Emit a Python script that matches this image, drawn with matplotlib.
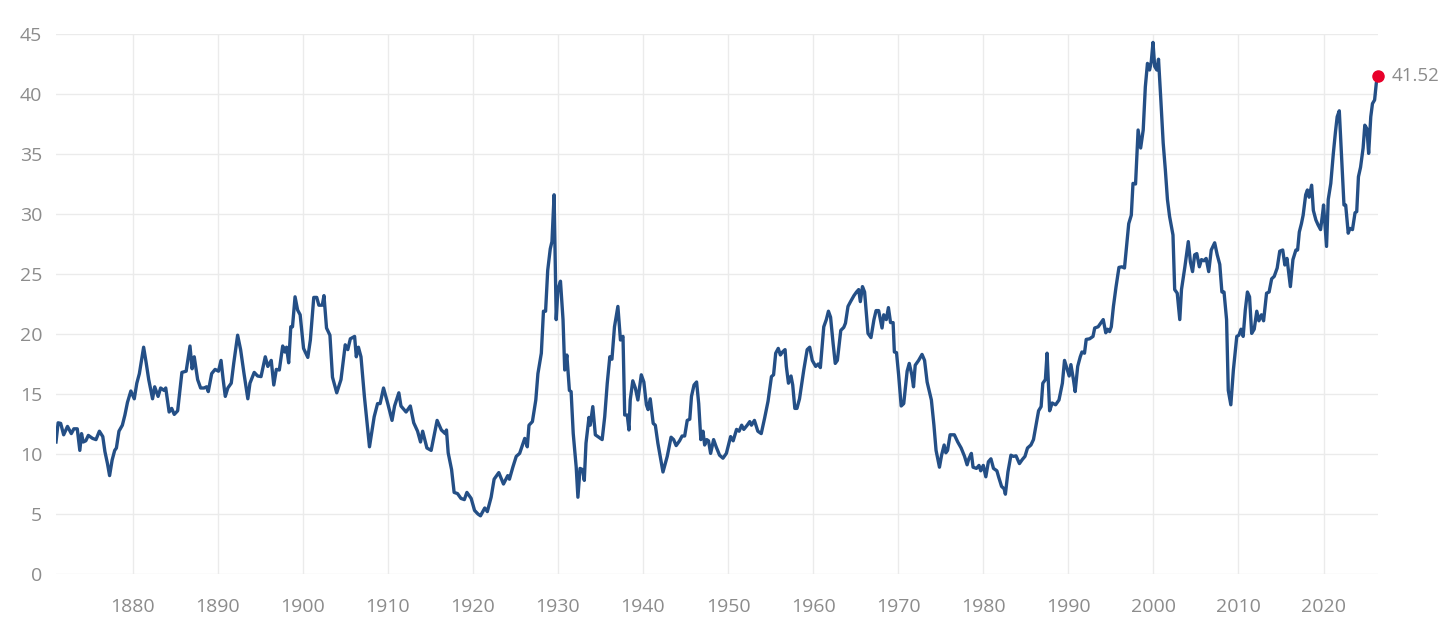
import matplotlib
matplotlib.use("Agg")
import matplotlib.pyplot as plt

# Shiller CAPE, values (decimal year, ratio)
years = [
    1871.0, 1871.25, 1871.55, 1871.9, 1872.35, 1872.8, 1873.1, 1873.5, 1873.8, 1874.0,
    1874.2, 1874.5, 1874.8, 1875.3, 1875.7, 1876.1, 1876.5, 1876.75, 1877.05, 1877.3,
    1877.6, 1877.9, 1878.1, 1878.4, 1878.8, 1879.1, 1879.4, 1879.8,
    1880.2, 1880.5, 1880.8, 1881.3, 1881.6, 1881.9, 1882.35, 1882.6, 1883.0, 1883.3,
    1883.7, 1883.9, 1884.3, 1884.6, 1884.9, 1885.3, 1885.8, 1886.3, 1886.75, 1887.0,
    1887.25, 1887.65, 1888.0, 1888.4, 1888.7, 1888.9, 1889.3, 1889.7,
    1890.1, 1890.4, 1890.65, 1890.9, 1891.2, 1891.6, 1891.9, 1892.35, 1892.7, 1893.1,
    1893.55, 1893.8, 1894.3, 1894.7, 1895.1, 1895.6, 1895.9, 1896.3, 1896.6, 1896.9,
    1897.25, 1897.65, 1897.9, 1898.1, 1898.35, 1898.6, 1898.8, 1899.1, 1899.4, 1899.7,
    1900.1, 1900.6, 1900.9, 1901.3, 1901.65, 1901.9, 1902.3, 1902.5, 1902.8, 1903.2,
    1903.5, 1904.0, 1904.5, 1905.0, 1905.3, 1905.6, 1906.1, 1906.3, 1906.55, 1906.85,
    1907.25, 1907.85, 1908.4, 1908.8, 1909.1, 1909.5,
    1910.0, 1910.5, 1910.8, 1911.3, 1911.55, 1912.15, 1912.65, 1913.05, 1913.5, 1913.85,
    1914.1, 1914.6, 1915.1, 1915.8, 1916.3, 1916.75, 1916.9, 1917.1, 1917.5, 1917.8,
    1918.2, 1918.6, 1919.0, 1919.3, 1919.8,
    1920.2, 1920.6, 1920.9, 1921.4, 1921.7, 1922.15, 1922.5, 1923.05, 1923.6, 1924.1,
    1924.3, 1924.7, 1925.1, 1925.5, 1926.1, 1926.4, 1926.6, 1927.0, 1927.4, 1927.65,
    1928.05, 1928.3, 1928.55, 1928.8, 1929.1, 1929.3, 1929.55, 1929.8,
    1930.0, 1930.3, 1930.6, 1930.8, 1931.05, 1931.35, 1931.55, 1931.8, 1932.15, 1932.35,
    1932.6, 1932.9, 1933.1, 1933.3, 1933.65, 1933.8, 1934.1, 1934.4, 1934.8, 1935.2,
    1935.5, 1935.8, 1936.1, 1936.35, 1936.65, 1937.05, 1937.35, 1937.65, 1937.85, 1938.15,
    1938.35, 1938.5, 1938.8, 1939.1, 1939.4, 1939.8,
    1940.1, 1940.4, 1940.6, 1940.85, 1941.2, 1941.45, 1941.75, 1942.35, 1942.85, 1943.3,
    1943.6, 1943.9, 1944.3, 1944.6, 1944.9, 1945.2, 1945.5, 1945.7, 1946.0, 1946.3,
    1946.55, 1946.8, 1947.05, 1947.25, 1947.5, 1947.7, 1947.95, 1948.3, 1948.6, 1949.0,
    1949.4, 1949.8,
    1950.3, 1950.6, 1951.0, 1951.3, 1951.6, 1951.85, 1952.25, 1952.55, 1952.75, 1953.1,
    1953.5, 1953.9, 1954.3, 1954.7, 1955.1, 1955.35, 1955.6, 1955.9, 1956.15, 1956.4,
    1956.7, 1956.85, 1957.1, 1957.4, 1957.6, 1957.85, 1958.1, 1958.4, 1958.9, 1959.3,
    1959.6, 1959.9,
    1960.3, 1960.6, 1960.85, 1961.25, 1961.55, 1961.8, 1962.05, 1962.35, 1962.6, 1962.85,
    1963.25, 1963.6, 1963.8, 1964.1, 1964.4, 1964.8, 1965.1, 1965.35, 1965.55, 1965.8,
    1966.05, 1966.45, 1966.8, 1967.15, 1967.4, 1967.7, 1968.1, 1968.3, 1968.6, 1968.85,
    1969.1, 1969.4, 1969.55, 1969.8,
    1970.05, 1970.35, 1970.65, 1971.05, 1971.3, 1971.6, 1971.8, 1972.0, 1972.4, 1972.8,
    1973.1, 1973.4, 1973.9, 1974.2, 1974.45, 1974.85, 1975.1, 1975.4, 1975.6, 1975.8,
    1976.1, 1976.6, 1977.0, 1977.4, 1977.8, 1978.1, 1978.3, 1978.6, 1978.8, 1979.2,
    1979.5, 1979.7,
    1980.0, 1980.3, 1980.6, 1980.9, 1981.2, 1981.6, 1981.8, 1982.15, 1982.45, 1982.6,
    1982.9, 1983.25, 1983.55, 1983.85, 1984.25, 1984.6, 1984.9, 1985.2, 1985.6, 1985.9,
    1986.2, 1986.5, 1986.8, 1987.0, 1987.3, 1987.5, 1987.8, 1988.1, 1988.5, 1988.9,
    1989.3, 1989.55, 1989.8,
    1990.1, 1990.3, 1990.6, 1990.8, 1991.1, 1991.4, 1991.6, 1991.9, 1992.1, 1992.5,
    1992.9, 1993.1, 1993.5, 1993.8, 1994.1, 1994.4, 1994.6, 1994.85, 1995.05, 1995.3,
    1995.6, 1995.95, 1996.3, 1996.6, 1996.8, 1997.1, 1997.4, 1997.6, 1997.9, 1998.2,
    1998.5, 1998.8, 1999.05, 1999.3, 1999.55, 1999.75, 1999.95,
    2000.15, 2000.4, 2000.6, 2000.85, 2001.15, 2001.4, 2001.65, 2001.9, 2002.3, 2002.5,
    2002.8, 2003.1, 2003.3, 2003.7, 2004.1, 2004.35, 2004.6, 2004.85, 2005.1, 2005.4,
    2005.65, 2005.95, 2006.2, 2006.5, 2006.8, 2007.2, 2007.5, 2007.8, 2008.05, 2008.3,
    2008.6, 2008.8, 2009.1, 2009.4, 2009.8,
    2010.05, 2010.3, 2010.55, 2010.8, 2011.05, 2011.3, 2011.55, 2011.85, 2012.15, 2012.4,
    2012.7, 2012.95, 2013.3, 2013.6, 2013.9, 2014.2, 2014.55, 2014.85, 2015.2, 2015.45,
    2015.7, 2016.1, 2016.4, 2016.75, 2016.95, 2017.15, 2017.4, 2017.6, 2017.9, 2018.1,
    2018.3, 2018.6, 2018.8, 2019.1, 2019.35, 2019.65, 2019.9,
    2020.0, 2020.35, 2020.55, 2020.85, 2021.15, 2021.4, 2021.6, 2021.85, 2022.1, 2022.4,
    2022.6, 2022.9, 2023.1, 2023.4, 2023.7, 2023.9, 2024.1, 2024.35, 2024.65, 2024.85,
    2025.1, 2025.3, 2025.55, 2025.75, 2026.0, 2026.2, 2026.4,
]
cape = [
    11.0, 12.6, 12.55, 11.6, 12.3, 11.7, 12.1, 12.1, 10.3, 11.7,
    11.0, 11.1, 11.55, 11.3, 11.2, 11.9, 11.45, 10.2, 9.2, 8.2,
    9.5, 10.3, 10.5, 11.9, 12.4, 13.25, 14.3, 15.25,
    14.6, 15.9, 16.7, 18.9, 17.6, 16.2, 14.6, 15.6, 14.8, 15.5,
    15.3, 15.5, 13.5, 13.8, 13.3, 13.6, 16.8, 16.9, 19.0, 17.1,
    18.1, 16.2, 15.5, 15.5, 15.6, 15.2, 16.7, 17.05,
    16.9, 17.8, 16.2, 14.8, 15.5, 15.9, 17.6, 19.9, 18.7, 16.7,
    14.6, 15.9, 16.8, 16.5, 16.45, 18.1, 17.3, 17.8, 15.75, 17.05,
    17.0, 19.0, 18.5, 18.9, 17.6, 20.6, 20.6, 23.1, 22.0, 21.6,
    18.8, 18.05, 19.5, 23.05, 23.05, 22.4, 22.4, 23.2, 20.5, 19.9,
    16.4, 15.1, 16.2, 19.1, 18.7, 19.6, 19.8, 18.1, 18.9, 18.1,
    14.8, 10.6, 13.1, 14.2, 14.2, 15.5,
    14.2, 12.8, 14.0, 15.1, 14.0, 13.5, 14.0, 12.6, 11.9, 11.0,
    11.9, 10.5, 10.3, 12.8, 12.0, 11.7, 12.0, 10.1, 8.7, 6.8,
    6.7, 6.3, 6.2, 6.8, 6.3,
    5.3, 5.0, 4.85, 5.5, 5.2, 6.4, 7.9, 8.45, 7.5, 8.2,
    7.9, 8.9, 9.8, 10.05, 11.3, 10.6, 12.4, 12.7, 14.5, 16.7,
    18.4, 21.9, 21.9, 25.3, 27.1, 27.7, 31.6, 21.2,
    23.7, 24.4, 21.2, 17.0, 18.25, 15.3, 15.2, 11.7, 8.9, 6.4,
    8.8, 8.7, 7.8, 10.9, 13.05, 12.4, 13.95, 11.6, 11.4, 11.2,
    13.1, 15.9, 18.1, 17.9, 20.6, 22.3, 19.5, 19.8, 13.25, 13.25,
    12.0, 14.5, 16.1, 15.5, 14.5, 16.6,
    16.0, 14.1, 13.7, 14.6, 12.55, 12.4, 10.9, 8.5, 9.8, 11.4,
    11.2, 10.7, 11.1, 11.5, 11.5, 12.8, 12.9, 14.8, 15.75, 16.0,
    14.2, 11.2, 11.9, 10.75, 11.2, 11.1, 10.05, 11.2, 10.6, 9.9,
    9.65, 10.05,
    11.45, 11.1, 12.05, 11.9, 12.4, 12.05, 12.4, 12.7, 12.4, 12.8,
    11.9, 11.7, 13.0, 14.4, 16.45, 16.6, 18.4, 18.8, 18.25, 18.5,
    18.7, 17.3, 15.9, 16.5, 15.75, 13.8, 13.8, 14.6, 17.0, 18.7,
    18.9, 17.8,
    17.3, 17.5, 17.2, 20.6, 21.2, 21.9, 21.4, 19.2, 17.55, 17.8,
    20.3, 20.55, 20.9, 22.3, 22.7, 23.2, 23.5, 23.7, 22.7, 23.95,
    23.5, 20.05, 19.7, 21.2, 21.95, 21.95, 20.5, 21.6, 21.2, 22.2,
    20.95, 20.95, 18.5, 18.45,
    16.6, 14.0, 14.2, 16.9, 17.55, 16.6, 15.6, 17.4, 17.8, 18.3,
    17.8, 16.0, 14.5, 12.4, 10.3, 8.9, 9.9, 10.75, 10.1, 10.3,
    11.6, 11.6, 11.0, 10.5, 9.8, 9.1, 9.6, 10.05, 8.9, 8.8,
    9.05, 8.6,
    9.05, 8.1, 9.35, 9.6, 8.8, 8.6, 8.1, 7.3, 7.1, 6.65,
    8.5, 9.9, 9.8, 9.85, 9.2, 9.55, 9.8, 10.5, 10.75, 11.2,
    12.4, 13.6, 13.95, 15.9, 16.2, 18.4, 13.6, 14.25, 14.1, 14.5,
    15.9, 17.8, 17.2,
    16.5, 17.45, 16.2, 15.2, 17.3, 18.1, 18.5, 18.4, 19.55, 19.6,
    19.8, 20.5, 20.6, 20.9, 21.2, 20.1, 20.4, 20.2, 20.6, 22.3,
    23.9, 25.55, 25.6, 25.5, 27.0, 29.2, 29.9, 32.55, 32.5, 37.0,
    35.5, 37.0, 40.6, 42.55, 42.0, 42.7, 44.3,
    42.3, 42.0, 42.9, 39.8, 35.9, 33.7, 31.2, 29.8, 28.25, 23.7,
    23.4, 21.2, 23.7, 25.6, 27.7, 26.0, 25.2, 26.6, 26.7, 25.6,
    26.2, 26.1, 26.3, 25.2, 27.0, 27.6, 26.6, 25.8, 23.5, 23.5,
    21.2, 15.3, 14.1, 17.0, 19.8,
    19.9, 20.4, 19.8, 22.0, 23.5, 23.1, 20.05, 20.4, 21.9, 21.1,
    21.6, 21.1, 23.4, 23.5, 24.6, 24.8, 25.5, 26.9, 27.0, 25.75,
    26.3, 23.95, 26.2, 27.0, 27.0, 28.5, 29.2, 29.9, 31.6, 32.0,
    31.4, 32.4, 30.3, 29.5, 29.1, 28.7, 30.1,
    30.75, 27.3, 31.2, 32.55, 35.05, 36.85, 38.1, 38.6, 35.05, 30.75,
    30.75, 28.4, 28.8, 28.7, 30.1, 30.2, 33.1, 33.9, 35.5, 37.4,
    37.1, 35.05, 38.1, 39.2, 39.5, 40.9, 41.52,
]

x_ticks = [1880, 1890, 1900, 1910, 1920, 1930, 1940, 1950, 1960, 1970, 1980, 1990, 2000, 2010, 2020]
y_ticks = [0, 5, 10, 15, 20, 25, 30, 35, 40, 45]

line_color = '#244f86'
dot_color = '#e8002a'
grid_color = '#ebebeb'
text_color = '#8c8c8c'

plt.rcParams['font.family'] = ['Open Sans', 'DejaVu Sans']

fig = plt.figure(figsize=(14.56, 6.22), dpi=100)
ax = fig.add_axes([56 / 1456, 1 - 574 / 622, (1378 - 56) / 1456, (574 - 34) / 622])

ax.plot(years, cape, color=line_color, linewidth=2.4, solid_joinstyle='round', zorder=3)
ax.plot(years[-1], cape[-1], 'o', color=dot_color, markersize=8, zorder=4, clip_on=False)
ax.annotate(f'{cape[-1]:.2f}', xy=(years[-1], cape[-1]), xytext=(10, 0),
            textcoords='offset points', va='center', ha='left',
            fontsize=13.5, color=text_color)

ax.set_xlim(years[0], years[-1])
ax.set_ylim(0, 45)
ax.set_xticks(x_ticks)
ax.set_yticks(y_ticks)
ax.grid(True, color=grid_color, linewidth=1)
ax.set_axisbelow(True)
for s in ax.spines.values():
    s.set_visible(False)
ax.tick_params(length=0, labelsize=14, labelcolor=text_color)
ax.tick_params(axis='x', pad=17)
ax.tick_params(axis='y', pad=10)

fig.savefig('out.png', dpi=100)
